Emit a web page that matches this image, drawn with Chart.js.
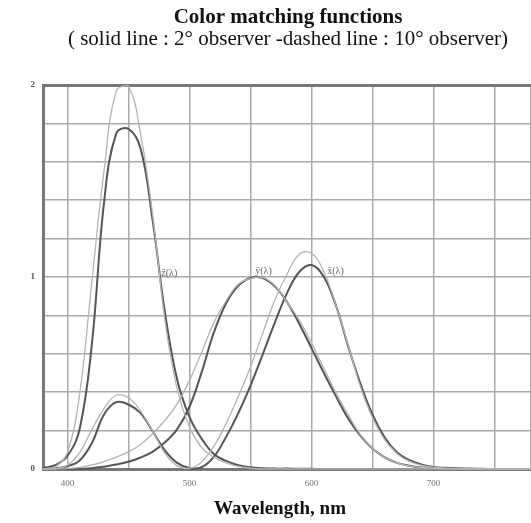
<!DOCTYPE html>
<html lang="en">
<head>
<meta charset="UTF-8">
<title>Color matching functions</title>
<script src="https://cdn.jsdelivr.net/npm/chart.js@4.4.5/dist/chart.umd.min.js"></script>
<style>
    body { margin: 0; background: #fff; }
</style>
</head>
<body>
<canvas id="cmf" width="531" height="523"></canvas>
<script>
    // wavelengths, nm
    const wavelengths = [380, 390, 400, 410, 420, 430, 440, 450, 460, 470,
        480, 490, 500, 510, 520, 530, 540, 550, 560, 570,
        580, 590, 600, 610, 620, 630, 640, 650, 660, 670,
        680, 690, 700, 710, 720, 730, 740, 750, 760, 770, 780];

    // 2 degree observer (solid)
    const xBar2 = [0.001, 0.004, 0.014, 0.044, 0.134, 0.284, 0.348, 0.336, 0.291, 0.195,
        0.096, 0.032, 0.005, 0.009, 0.063, 0.166, 0.290, 0.433, 0.595, 0.762,
        0.916, 1.026, 1.062, 1.003, 0.854, 0.642, 0.448, 0.284, 0.165, 0.087,
        0.047, 0.023, 0.011, 0.006, 0.003, 0.001, 0.001, 0, 0, 0, 0];
    const yBar2 = [0, 0, 0, 0.001, 0.004, 0.012, 0.023, 0.038, 0.060, 0.091,
        0.139, 0.208, 0.323, 0.503, 0.710, 0.862, 0.954, 0.995, 0.995, 0.952,
        0.870, 0.757, 0.631, 0.503, 0.381, 0.265, 0.175, 0.107, 0.061, 0.032,
        0.017, 0.008, 0.004, 0.002, 0.001, 0.001, 0, 0, 0, 0, 0];
    const zBar2 = [0.006, 0.020, 0.068, 0.207, 0.646, 1.386, 1.747, 1.772, 1.669, 1.288,
        0.813, 0.465, 0.272, 0.158, 0.078, 0.042, 0.020, 0.009, 0.004, 0.002,
        0.002, 0.001, 0.001, 0, 0, 0, 0, 0, 0, 0,
        0, 0, 0, 0, 0, 0, 0, 0, 0, 0, 0];

    // 10 degree observer (dashed in the original caption)
    const xBar10 = [0, 0.002, 0.019, 0.085, 0.204, 0.315, 0.384, 0.371, 0.302, 0.196,
        0.081, 0.016, 0.004, 0.037, 0.118, 0.236, 0.377, 0.530, 0.705, 0.879,
        1.014, 1.119, 1.124, 1.030, 0.856, 0.647, 0.432, 0.268, 0.153, 0.081,
        0.041, 0.020, 0.010, 0.005, 0.002, 0.001, 0.001, 0, 0, 0, 0];
    const yBar10 = [0, 0, 0.002, 0.009, 0.021, 0.039, 0.062, 0.089, 0.128, 0.185,
        0.254, 0.339, 0.461, 0.607, 0.762, 0.875, 0.962, 0.992, 0.997, 0.956,
        0.869, 0.777, 0.658, 0.528, 0.398, 0.283, 0.180, 0.108, 0.060, 0.032,
        0.016, 0.008, 0.004, 0.002, 0.001, 0, 0, 0, 0, 0, 0];
    const zBar10 = [0.001, 0.010, 0.086, 0.389, 0.973, 1.553, 1.967, 1.995, 1.745, 1.318,
        0.772, 0.415, 0.219, 0.112, 0.061, 0.030, 0.014, 0.004, 0, 0,
        0, 0, 0, 0, 0, 0, 0, 0, 0, 0,
        0, 0, 0, 0, 0, 0, 0, 0, 0, 0, 0];

    const xGridLines = [380, 400, 450, 500, 550, 600, 650, 700, 750, 780];
    const xTickLabels = [400, 500, 600, 700];
    const yTickLabels = [0, 1, 2];

    // little labels printed next to the curves
    const curveNames = ['z\u0304(\u03bb)', 'y\u0304(\u03bb)', 'x\u0304(\u03bb)'];
    const curveNameAt = [477, 554, 613];
    const curveNameLevel = [1.02, 1.03, 1.03];

    const chartTitle = 'Color matching functions';
    const chartSubtitle = '( solid line : 2\u00b0 observer -dashed line : 10\u00b0 observer)';
    const xTitle = 'Wavelength, nm';

    const DARK = '#555';
    const LIGHT = '#b4b4b4';

    function pts(arr) {
        return wavelengths.map((w, i) => ({x: w, y: arr[i]}));
    }

    function line(label, arr, color, width) {
        return {
            label: label,
            data: pts(arr),
            borderColor: color,
            borderWidth: width,
            pointRadius: 0,
            fill: false,
            tension: 0.4,
            clip: false
        };
    }

    const textPlugin = {
        id: 'texts',
        afterDraw: function (chart) {
            const ctx = chart.ctx;
            const xs = chart.scales.x;
            const ys = chart.scales.y;
            ctx.save();
            ctx.fillStyle = '#111';
            ctx.textAlign = 'center';
            ctx.textBaseline = 'middle';
            ctx.font = 'bold 21px "Liberation Serif", serif';
            ctx.fillText(chartTitle, 288, 18);
            ctx.font = '21px "Liberation Serif", serif';
            ctx.fillText(chartSubtitle, 288, 39);
            ctx.font = 'bold 19px "Liberation Serif", serif';
            ctx.fillText(xTitle, 280, 509);

            ctx.font = '10px "Liberation Serif", serif';
            ctx.fillStyle = '#666';
            ctx.textAlign = 'left';
            for (let i = 0; i < curveNames.length; i++) {
                ctx.fillText(curveNames[i], xs.getPixelForValue(curveNameAt[i]), ys.getPixelForValue(curveNameLevel[i]));
            }
            ctx.restore();
        }
    };

    const config = {
        type: 'line',
        data: {
            datasets: [
                line('x 10', xBar10, LIGHT, 1.3),
                line('y 10', yBar10, LIGHT, 1.3),
                line('z 10', zBar10, LIGHT, 1.3),
                line('x 2', xBar2, DARK, 2),
                line('y 2', yBar2, DARK, 2),
                line('z 2', zBar2, DARK, 2)
            ]
        },
        options: {
            responsive: false,
            animation: false,
            layout: {
                padding: {top: 85, left: 0, right: 0, bottom: 0}
            },
            scales: {
                x: {
                    type: 'linear',
                    min: 380,
                    max: 780,
                    afterBuildTicks: function (scale) {
                        scale.ticks = xGridLines.map(v => ({value: v}));
                    },
                    afterFit: function (scale) {
                        scale.height = 54;
                        scale.paddingLeft = 0;
                        scale.paddingRight = 0;
                    },
                    ticks: {
                        padding: 9,
                        color: '#777',
                        font: {size: 9, family: '"Liberation Serif", serif'},
                        callback: function (v) {
                            return xTickLabels.includes(v) ? String(v) : '';
                        }
                    },
                    grid: {
                        color: '#aaa',
                        lineWidth: 1.5,
                        drawTicks: false
                    },
                    border: {display: true, color: '#777', width: 3}
                },
                y: {
                    min: 0,
                    max: 2,
                    afterFit: function (scale) { scale.width = 43; },
                    ticks: {
                        stepSize: 0.2,
                        padding: 8,
                        color: '#555',
                        font: {size: 9, weight: 'bold', family: '"Liberation Serif", serif'},
                        callback: function (v) {
                            const r = Math.round(v);
                            return (Math.abs(v - r) < 1e-6 && yTickLabels.includes(r)) ? String(r) : '';
                        }
                    },
                    grid: {
                        color: function (c) {
                            return (c.tick && Math.abs(c.tick.value - 2) < 1e-6) ? '#777' : '#aaa';
                        },
                        lineWidth: function (c) {
                            return (c.tick && Math.abs(c.tick.value - 2) < 1e-6) ? 3 : 1.5;
                        },
                        drawTicks: false
                    },
                    border: {display: true, color: '#777', width: 3}
                }
            },
            plugins: {
                legend: {display: false},
                title: {display: false},
                tooltip: {enabled: false}
            }
        },
        plugins: [textPlugin]
    };

    const chart = new Chart(document.getElementById('cmf').getContext('2d'), config);
</script>
</body>
</html>
